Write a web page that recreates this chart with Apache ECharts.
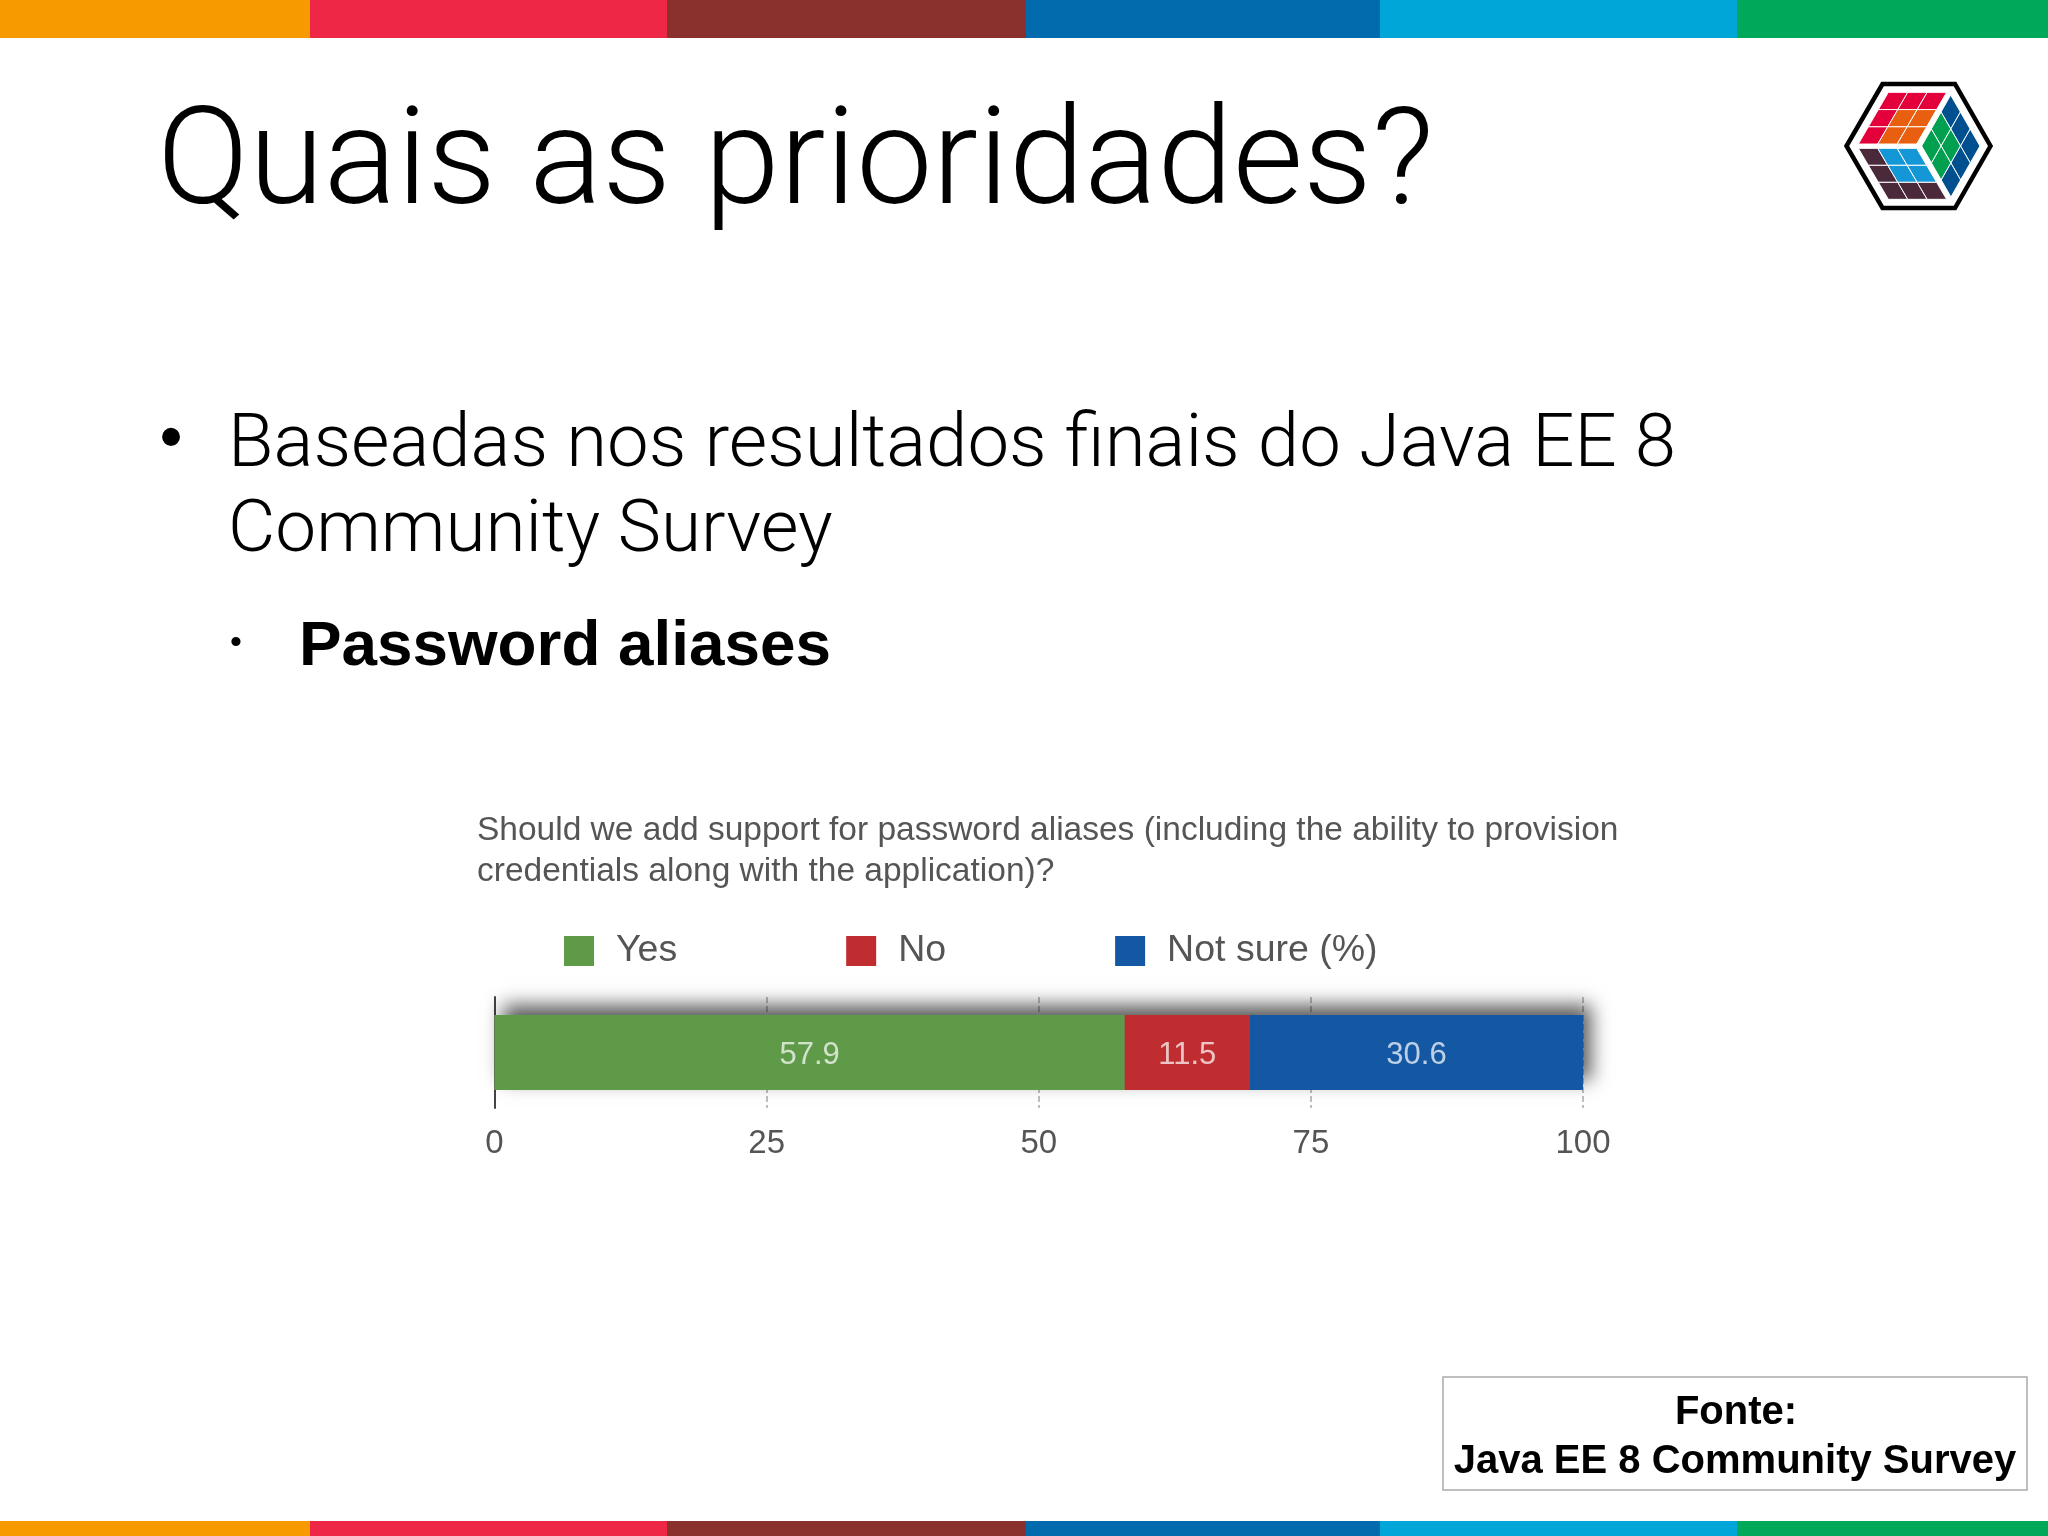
<!DOCTYPE html>
<html>
<head>
<meta charset="utf-8">
<title>Quais as prioridades?</title>
<style>
html, body { margin: 0; padding: 0; background: #fff; }
#chart { width: 2048px; height: 1536px; }
</style>
<script src="https://cdn.jsdelivr.net/npm/echarts@6/dist/echarts.min.js"></script>
</head>
<body>
<div id="chart"></div>
<script>
var categories = ['Password aliases'];
var seriesNames = ['Yes', 'No', 'Not sure (%)'];
var yesValues = [57.9];
var noValues = [11.5];
var notSureValues = [30.6];
var seriesColors = ['#5f9a48', '#bf2d30', '#1458a3'];
var tickLabels = ['0', '25', '50', '75', '100'];

var question = 'Should we add support for password aliases (including the ability to provision\ncredentials along with the application)?';
var slideTitle = 'Quais as prioridades?';
var bulletLines = ['Baseadas nos resultados finais do Java EE 8', 'Community Survey'];
var subBullet = 'Password aliases';
var sourceLines = ['Fonte:', 'Java EE 8 Community Survey'];

var stripeColors = ['#f79a00', '#ee2746', '#8a312d', '#026bae', '#00a6d7', '#00a85a'];
var stripeEdges = [0, 310, 667, 1026, 1380, 1737, 2048];

var chart = echarts.init(document.getElementById('chart'));

function stripes(top, height) {
    return stripeColors.map(function (c, i) {
        return {
            type: 'rect',
            shape: { x: stripeEdges[i], y: top, width: stripeEdges[i + 1] - stripeEdges[i], height: height },
            style: { fill: c }
        };
    });
}

function slideText(text, x, y, size, weight, family, align) {
    return {
        type: 'text',
        x: x,
        y: y,
        style: {
            text: text,
            fill: '#000',
            fontSize: size,
            fontWeight: weight,
            fontFamily: family,
            align: align || 'left',
            verticalAlign: 'middle'
        }
    };
}

// logo: three 3x3 faces of a cube inside a hexagon
function logoFace(origin, u, v, colors) {
    var cells = [];
    for (var r = 0; r < 3; r++) {
        for (var c = 0; c < 3; c++) {
            var p = function (a, b) {
                return [
                    1820 + (origin[0] + a * u[0] + b * v[0]) / 3,
                    60 + (origin[1] + a * u[1] + b * v[1]) / 3
                ];
            };
            cells.push({
                type: 'polygon',
                shape: { points: [p(c, r), p(c + 1, r), p(c + 1, r + 1), p(c, r + 1)] },
                style: { fill: colors[r][c], stroke: '#fff', lineWidth: 1 }
            });
        }
    }
    return cells;
}

var R = '#e4003a', O = '#e8600f', D = '#00508f', G = '#00a050', L = '#1497d6', K = '#4a2a3a';
var logo = [{
    type: 'polygon',
    shape: {
        points: [[1846.5, 146], [1882.5, 84], [1955, 84], [1990.5, 146], [1955, 208], [1882.5, 208]]
    },
    style: { fill: '#fff', stroke: '#000', lineWidth: 4.5 }
}]
    .concat(logoFace([205, 97], [58.3, 0], [-30, 51.7], [[R, R, R], [R, O, O], [R, O, O]]))
    .concat(logoFace([392, 105], [29.3, 51], [-29, 51], [[D, D, D], [G, G, D], [G, G, D]]))
    .concat(logoFace([115, 265], [58.3, 0], [30, 51], [[K, L, L], [K, L, L], [K, K, K]]));

var graphicElements = []
    .concat(stripes(0, 38))
    .concat(stripes(1521, 15))
    .concat(logo)
    .concat([
        slideText(slideTitle, 157, 169, 136, 300, 'Roboto'),
        slideText('•', 171, 441, 66, 400, 'Liberation Sans', 'center'),
        slideText(bulletLines[0], 228, 447, 74.3, 300, 'Roboto'),
        slideText(bulletLines[1], 228, 533, 72.9, 300, 'Roboto'),
        slideText('•', 236, 644, 34, 400, 'Liberation Sans', 'center'),
        slideText(subBullet, 299, 647, 63.8, 700, 'Liberation Sans'),
        {
            type: 'rect',
            shape: { x: 1443, y: 1377, width: 584, height: 113 },
            style: { fill: 'none', stroke: '#aaaaaa', lineWidth: 1.5 }
        },
        slideText(sourceLines[0], 1736, 1413, 40, 700, 'Liberation Sans', 'center'),
        slideText(sourceLines[1], 1735, 1462, 40, 700, 'Liberation Sans', 'center')
    ]);

var barSeries = [yesValues, noValues, notSureValues].map(function (vals, i) {
    return {
        name: seriesNames[i],
        type: 'bar',
        stack: 'total',
        barWidth: 75,
        barGap: '-100%',
        data: vals,
        itemStyle: { color: seriesColors[i] },
        label: {
            show: true,
            position: 'inside',
            offset: [0, 3],
            color: 'rgba(255,255,255,0.72)',
            fontSize: 31,
            fontFamily: 'Liberation Sans'
        }
    };
});

// one bar under the stack, only there to throw the soft shadow of the whole strip
var shadowBar = {
    type: 'bar',
    barWidth: 75,
    barGap: '-100%',
    silent: true,
    data: yesValues.map(function (v, i) { return v + noValues[i] + notSureValues[i]; }),
    itemStyle: {
        color: '#777',
        shadowColor: 'rgba(0,0,0,0.65)',
        shadowBlur: 18,
        shadowOffsetX: 8,
        shadowOffsetY: -10
    }
};

var option = {
    backgroundColor: '#fff',
    animation: false,
    title: {
        text: question,
        left: 472,
        top: 805,
        textStyle: {
            color: '#555',
            fontSize: 33.5,
            fontWeight: 400,
            fontFamily: 'Liberation Sans',
            lineHeight: 41
        }
    },
    legend: {
        left: 559,
        top: 927,
        itemWidth: 30,
        itemHeight: 30,
        itemGap: 169,
        icon: 'rect',
        data: seriesNames,
        textStyle: {
            color: '#555',
            fontSize: 37.5,
            fontFamily: 'Liberation Sans',
            padding: [0, 0, 0, 17]
        }
    },
    grid: { left: 494.5, top: 997, width: 1088.5, height: 111 },
    xAxis: {
        type: 'value',
        min: 0,
        max: 100,
        interval: 25,
        axisLine: { show: false },
        axisTick: { show: false },
        splitLine: { show: true, lineStyle: { color: '#aaa', type: 'dashed', width: 1.5 } },
        axisLabel: {
            margin: 19,
            color: '#555',
            fontSize: 33,
            fontFamily: 'Liberation Sans',
            formatter: function (v) { return tickLabels[v / 25]; }
        }
    },
    yAxis: {
        type: 'category',
        data: categories,
        axisLine: { show: true, lineStyle: { color: '#444', width: 2 } },
        axisTick: { show: false },
        axisLabel: { show: false }
    },
    series: [shadowBar].concat(barSeries),
    graphic: { elements: graphicElements }
};

chart.setOption(option);
</script>
</body>
</html>
